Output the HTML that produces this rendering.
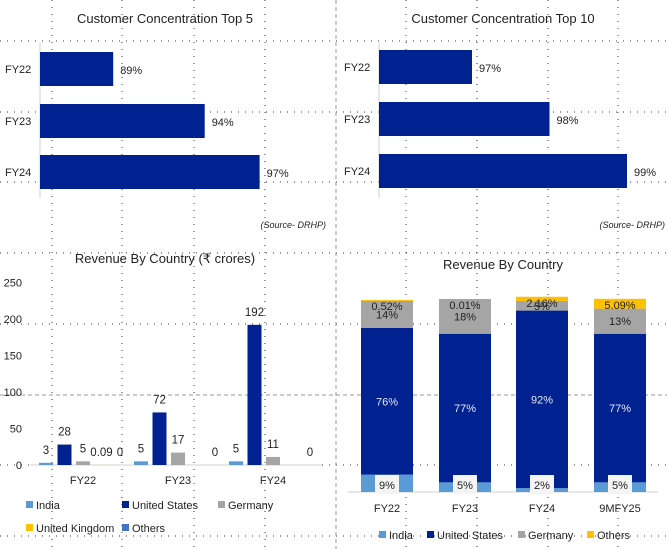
<!DOCTYPE html>
<html><head><meta charset="utf-8">
<style>
html,body{margin:0;padding:0;background:#fff;}
svg{display:block;font-family:"Liberation Sans",sans-serif;}
</style></head>
<body>
<svg id="root" width="667" height="549" viewBox="0 0 667 549" xmlns="http://www.w3.org/2000/svg">
<g id="grid"></g>
<g id="c1"></g>
<g id="c2"></g>
<g id="c3"></g>
<g id="c4"></g>
</svg>
<script>
// ---- data ----
const concCats = ["FY22","FY23","FY24"];
const top5Vals = [89,94,97];
const top10Vals = [97,98,99];
const revCats = ["FY22","FY23","FY24"];
const revIndia = [3,5,5];
const revUS = [28,72,192];
const revGermany = [5,17,11];
const revUK = [0.09,0,0];
const revOthers = [0,0,0];
const revUKLabels = ["0.09","",""];
const revTicks = [0,50,100,150,200,250];
const shareCats = ["FY22","FY23","FY24","9MFY25"];
const shareIndia = [9,5,2,5];
const shareUS = [76,77,92,77];
const shareGermany = [14,18,5,13];
const shareOthers = [0.52,0.01,2.16,5.09];
const shareOthersLabels = ["0.52%","0.01%","2.16%","5.09%"];

const NS="http://www.w3.org/2000/svg";
function mk(parent,tag,attrs){const e=document.createElementNS(NS,tag);for(const k in attrs)e.setAttribute(k,attrs[k]);parent.appendChild(e);return e;}
function txt(parent,x,y,s,attrs){const e=mk(parent,"text",Object.assign({x:x,y:y,"font-size":11,fill:"#222"},attrs||{}));e.textContent=s;return e;}
const DARK="#002291",LIGHT="#5B9BD5",GREY="#A5A5A5",GOLD="#FFC000",OTH="#4472C4";

// grid
const grid=document.getElementById("grid");
[52,122,194,265,406,477,548,618].forEach(x=>{const l=mk(grid,"line",{x1:x,y1:0,x2:x,y2:549,stroke:"#333","stroke-width":1,"stroke-dasharray":"1 6"});});
[41,112,182,253,324,465,536].forEach(y=>{const l=mk(grid,"line",{x1:0,y1:y,x2:667,y2:y,stroke:"#333","stroke-width":1,"stroke-dasharray":"1 6"});});
{const l=mk(grid,"line",{x1:336,y1:0,x2:336,y2:549,stroke:"#999","stroke-dasharray":"4 3"});}
{const l=mk(grid,"line",{x1:0,y1:395,x2:667,y2:395,stroke:"#999","stroke-dasharray":"4 3"});}

// horizontal bar charts
function hbar(gid,title,tx,vals,x0,minV,scale,barY,src){
  const g=document.getElementById(gid);
  let t=txt(g,tx,23,title,{"font-size":13,"text-anchor":"middle"});
  let ax=mk(g,"line",{x1:x0,y1:43,x2:x0,y2:198,stroke:"#d0d0d0"});
  vals.forEach((v,i)=>{
    const y=barY[i];const w=(v-minV)*scale;
    const r=mk(g,"rect",{x:x0,y:y,width:w,height:34,fill:DARK});
    const c=txt(g,x0-35,y+21,concCats[i]);
    const l=txt(g,x0+w+7,y+22,v+"%");
  });
  const s=txt(g,src,228,"(Source- DRHP)",{"font-size":9,"font-style":"italic","text-anchor":"end"});
}
hbar("c1","Customer Concentration Top 5",165,top5Vals,40,85,18.3,[52,104,155],326);
hbar("c2","Customer Concentration Top 10",503,top10Vals,379,95.8,77.5,[50,102,154],665);

// clustered column chart
(function(){
  const g=document.getElementById("c3");
  const y0=465,k=0.73;const Y=v=>y0-v*k;
  let t=txt(g,165,263,"Revenue By Country (₹ crores)",{"font-size":13,"text-anchor":"middle"});
  revTicks.forEach(v=>{const l=txt(g,22,Y(v)+4,String(v),{"text-anchor":"end"});});
  let ax=mk(g,"line",{x1:30,y1:y0,x2:322,y2:y0,stroke:"#d0d0d0"});
  const centers=[83,178,273];
  const series=[[revIndia,LIGHT,"india"],[revUS,DARK,"united-states"],[revGermany,GREY,"germany"],[revUK,GOLD,"united-kingdom"],[revOthers,OTH,"others"]];
  revCats.forEach((c,i)=>{
    const cl=txt(g,centers[i],484,c,{"text-anchor":"middle"});
    series.forEach((s,j)=>{
      const v=s[0][i];const cx=centers[i]+(j-2)*18.5;
      const h=v*k;
      const r=mk(g,"rect",{x:cx-7,y:y0-h,width:14,height:h,fill:s[1]});
      let lab;
      if(j===3){lab=revUKLabels[i];}else{lab=String(v);}
      if(lab!==""){const l=txt(g,cx,y0-h-9,lab,{"font-size":11.5,"text-anchor":"middle"});}
    });
  });
  const leg=[[LIGHT,"India",26,508],[DARK,"United States",122,508],[GREY,"Germany",218,508],[GOLD,"United Kingdom",26,531],[OTH,"Others",122,531]];
  leg.forEach(d=>{const r=mk(g,"rect",{x:d[2],y:d[3]-7,width:7,height:7,fill:d[0]});
    const l=txt(g,d[2]+10,d[3]+1,d[1]);});
})();

// 100% stacked chart
(function(){
  const g=document.getElementById("c4");
  const y0=492,k=1.93;
  let t=txt(g,503,269,"Revenue By Country",{"font-size":13,"text-anchor":"middle"});
  let ax=mk(g,"line",{x1:348,y1:y0,x2:658,y2:y0,stroke:"#d0d0d0"});
  const centers=[387,465,542,620];
  shareCats.forEach((c,i)=>{
    const cx=centers[i];let base=y0;
    const segs=[[shareIndia[i],LIGHT,"india"],[shareUS[i],DARK,"united-states"],[shareGermany[i],GREY,"germany"],[shareOthers[i],GOLD,"others"]];
    const tops=[];
    segs.forEach(s=>{const h=s[0]*k;const r=mk(g,"rect",{x:cx-26,y:base-h,width:52,height:h,fill:s[1]});tops.push([base-h,base]);base-=h;});
    const bx=mk(g,"rect",{x:cx-12,y:y0-17,width:24,height:19,fill:"#f4f4f4"});
    let l=txt(g,cx,y0-3,shareIndia[i]+"%",{"text-anchor":"middle"});
    l=txt(g,cx,(tops[1][0]+tops[1][1])/2+4,shareUS[i]+"%",{"text-anchor":"middle",fill:"#e8e8f4"});
    l=txt(g,cx,(tops[2][0]+tops[2][1])/2+4,shareGermany[i]+"%",{"text-anchor":"middle"});
    l=txt(g,cx,Math.max(tops[3][0]+10,(tops[3][0]+tops[3][1])/2+4),shareOthersLabels[i],{"text-anchor":"middle"});
    const cl=txt(g,cx,512,c,{"text-anchor":"middle"});
  });
  const leg=[[LIGHT,"India",379],[DARK,"United States",427],[GREY,"Germany",518],[GOLD,"Others",587]];
  leg.forEach(d=>{const r=mk(g,"rect",{x:d[2],y:531,width:7,height:7,fill:d[0]});
    const l=txt(g,d[2]+10,539,d[1]);});
})();
</script>
</body></html>
